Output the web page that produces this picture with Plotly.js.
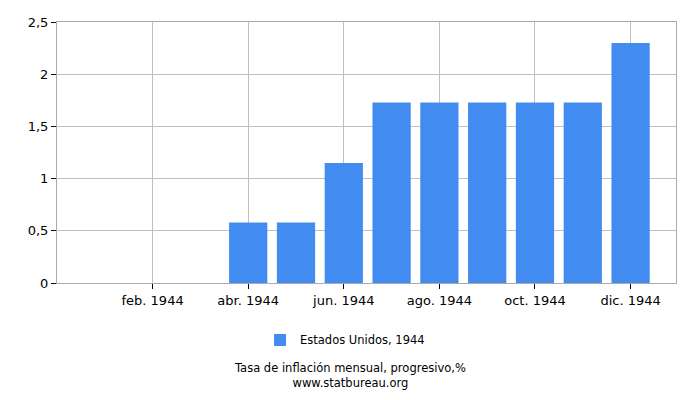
<!DOCTYPE html>
<html>
<head>
<meta charset="utf-8">
<script src="https://cdn.plot.ly/plotly-3.0.1.min.js"></script>
<style>body{margin:0;padding:0;background:#fff}#chart{width:700px;height:400px}</style>
</head>
<body>
<div id="chart"></div>
<script>
// months as index 1..12
var months = [1, 2, 3, 4, 5, 6, 7, 8, 9, 10, 11, 12];
var inflation = [0, 0, 0, 0.58, 0.58, 1.15, 1.73, 1.73, 1.73, 1.73, 1.73, 2.3];
var tickPos = [2, 4, 6, 8, 10, 12];
var tickLabels = ['feb. 1944', 'abr. 1944', 'jun. 1944', 'ago. 1944', 'oct. 1944', 'dic. 1944'];
var seriesName = 'Estados Unidos, 1944';

var data = [{
  x: months,
  y: inflation,
  type: 'bar',
  name: seriesName,
  marker: {color: '#428bf0'}   // statbureau blue
}];

var layout = {
  width: 700,
  height: 400,
  margin: {l: 57, r: 24, t: 22, b: 117},
  paper_bgcolor: '#fff',
  plot_bgcolor: '#fff',
  font: {family: 'DejaVu Sans', size: 13, color: '#000'},
  separators: ',.',
  bargap: 0.2,
  showlegend: true,
  legend: {
    orientation: 'h',
    x: 0.328, xanchor: 'left',
    y: -0.218, yanchor: 'middle',
    font: {size: 11.5}
  },
  xaxis: {
    range: [0, 12.95],
    tickvals: tickPos,
    ticktext: tickLabels,
    showgrid: true,
    gridcolor: '#c0c0c0',
    showline: true,
    linecolor: '#aaa',
    mirror: true,
    ticks: 'outside',
    ticklen: 5,
    tickcolor: '#000',
    zeroline: false,
    fixedrange: true
  },
  yaxis: {
    range: [0, 2.5],
    dtick: 0.5,
    showgrid: true,
    gridcolor: '#c0c0c0',
    showline: true,
    linecolor: '#aaa',
    mirror: true,
    ticks: 'outside',
    ticklen: 5,
    tickcolor: '#000',
    zeroline: false
  },
  annotations: [
    {text: 'Tasa de inflación mensual, progresivo,%<br>www.statbureau.org',
     xref: 'paper', yref: 'paper',
     x: 0.473, y: -0.355, xanchor: 'center', yanchor: 'middle', showarrow: false,
     font: {size: 11.5}}
  ]
};

Plotly.newPlot('chart', data, layout, {staticPlot: true});
</script>
</body>
</html>
